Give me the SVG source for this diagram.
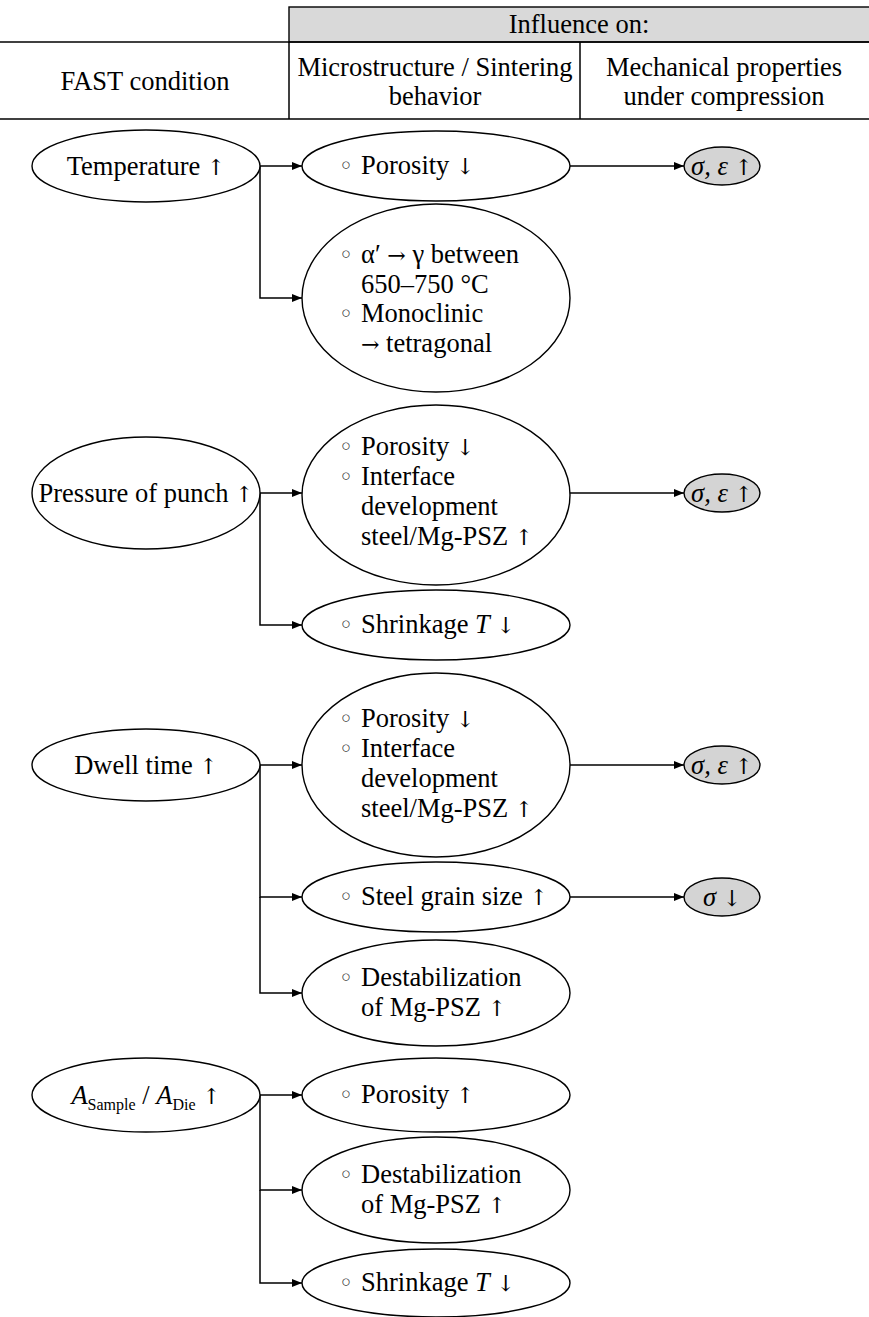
<svg xmlns="http://www.w3.org/2000/svg" width="869" height="1317" viewBox="0 0 869 1317">
<defs>
<marker id="ah" viewBox="0 0 10 8" refX="10" refY="4" markerWidth="10" markerHeight="8" markerUnits="userSpaceOnUse" orient="auto">
<path d="M0,0 L10,4 L0,8 Z" fill="#000"/>
</marker>
<style>
text{font-family:"Liberation Serif","DejaVu Serif",serif;font-size:26.5px;fill:#000}
.c{text-anchor:middle}
.n{fill:#fff;stroke:#000;stroke-width:1.4}
.g{fill:#d4d4d4;stroke:#000;stroke-width:1.4}
.l{fill:none;stroke:#000;stroke-width:1.5}
.a{fill:none;stroke:#000;stroke-width:1.5;marker-end:url(#ah)}
.b{font-family:"DejaVu Sans",sans-serif;font-size:24px;fill:#333}
.r{font-family:"DejaVu Serif",serif;font-size:22px}
.i{font-style:italic}
.s{font-size:16px}
</style>
</defs>
<rect width="869" height="1317" fill="#fff"/>
<g id="header">
<rect x="289" y="7" width="590" height="35" fill="#d9d9d9" stroke="#000" stroke-width="1.4"/>
<line class="l" x1="0" y1="42" x2="869" y2="42"/>
<line class="l" x1="0" y1="119" x2="869" y2="119"/>
<line class="l" x1="289" y1="42" x2="289" y2="119"/>
<line class="l" x1="580" y1="42" x2="580" y2="119"/>
<text class="c" x="579" y="33">Influence on:</text>
<text class="c" x="145" y="90">FAST condition</text>
<text class="c" x="435" y="76">Microstructure / Sintering</text>
<text class="c" x="435" y="105">behavior</text>
<text class="c" x="724" y="76">Mechanical properties</text>
<text class="c" x="724" y="105">under compression</text>
</g>
<g id="connectors">
<line class="a" x1="260" y1="166" x2="302" y2="166"/>
<polyline class="a" points="260,166 260,298 302,298"/>
<line class="a" x1="570" y1="166" x2="684" y2="166"/>
<line class="a" x1="260" y1="493" x2="302" y2="493"/>
<polyline class="a" points="260,493 260,625 302,625"/>
<line class="a" x1="570" y1="493" x2="684" y2="493"/>
<line class="a" x1="260" y1="765" x2="302" y2="765"/>
<polyline class="a" points="260,765 260,897 302,897"/>
<polyline class="a" points="260,897 260,993 302,993"/>
<line class="a" x1="570" y1="765" x2="684" y2="765"/>
<line class="a" x1="570" y1="897" x2="684" y2="897"/>
<line class="a" x1="260" y1="1095" x2="302" y2="1095"/>
<polyline class="a" points="260,1095 260,1190 302,1190"/>
<polyline class="a" points="260,1190 260,1283 302,1283"/>
</g>
<g id="temperature">
<ellipse class="n" cx="146" cy="166" rx="114" ry="36"/>
<text class="c" x="146" y="175">Temperature <tspan class="r">↑</tspan></text>
</g>
<g id="porosity1">
<ellipse class="n" cx="436" cy="166" rx="134" ry="35"/>
<text x="339" y="174"><tspan class="b">◦</tspan><tspan x="361">Porosity <tspan class="r">↓</tspan></tspan></text>
</g>
<g id="phase">
<ellipse class="n" cx="436" cy="298" rx="134" ry="94"/>
<text x="339" y="263"><tspan class="b">◦</tspan><tspan x="361">α′ <tspan class="r">→</tspan> γ between</tspan></text>
<text x="361" y="293">650–750 °C</text>
<text x="339" y="322"><tspan class="b">◦</tspan><tspan x="361">Monoclinic</tspan></text>
<text x="361" y="352"><tspan class="r">→</tspan> tetragonal</text>
</g>
<g id="sigma1">
<ellipse class="g" cx="722" cy="166" rx="38" ry="19"/>
<text class="c" x="722" y="175"><tspan class="i">σ, ε</tspan> <tspan class="r">↑</tspan></text>
</g>
<g id="pressure">
<ellipse class="n" cx="146" cy="493" rx="114" ry="56"/>
<text class="c" x="146" y="502">Pressure of punch <tspan class="r">↑</tspan></text>
</g>
<g id="interface1">
<ellipse class="n" cx="436" cy="495" rx="134" ry="90"/>
<text x="339" y="455"><tspan class="b">◦</tspan><tspan x="361">Porosity <tspan class="r">↓</tspan></tspan></text>
<text x="339" y="485"><tspan class="b">◦</tspan><tspan x="361">Interface</tspan></text>
<text x="361" y="515">development</text>
<text x="361" y="545">steel/Mg-PSZ <tspan class="r">↑</tspan></text>
</g>
<g id="sigma2">
<ellipse class="g" cx="722" cy="493" rx="38" ry="19"/>
<text class="c" x="722" y="502"><tspan class="i">σ, ε</tspan> <tspan class="r">↑</tspan></text>
</g>
<g id="shrink1">
<ellipse class="n" cx="436" cy="625" rx="134" ry="35"/>
<text x="339" y="633"><tspan class="b">◦</tspan><tspan x="361">Shrinkage <tspan class="i">T</tspan> <tspan class="r">↓</tspan></tspan></text>
</g>
<g id="dwell">
<ellipse class="n" cx="146" cy="765" rx="114" ry="36"/>
<text class="c" x="146" y="774">Dwell time <tspan class="r">↑</tspan></text>
</g>
<g id="interface2">
<ellipse class="n" cx="436" cy="765" rx="134" ry="92"/>
<text x="339" y="727"><tspan class="b">◦</tspan><tspan x="361">Porosity <tspan class="r">↓</tspan></tspan></text>
<text x="339" y="757"><tspan class="b">◦</tspan><tspan x="361">Interface</tspan></text>
<text x="361" y="787">development</text>
<text x="361" y="817">steel/Mg-PSZ <tspan class="r">↑</tspan></text>
</g>
<g id="sigma3">
<ellipse class="g" cx="722" cy="765" rx="38" ry="19"/>
<text class="c" x="722" y="774"><tspan class="i">σ, ε</tspan> <tspan class="r">↑</tspan></text>
</g>
<g id="grain">
<ellipse class="n" cx="436" cy="897" rx="134" ry="35"/>
<text x="339" y="905"><tspan class="b">◦</tspan><tspan x="361">Steel grain size <tspan class="r">↑</tspan></tspan></text>
</g>
<g id="sigma4">
<ellipse class="g" cx="722" cy="897" rx="38" ry="19"/>
<text class="c" x="722" y="906"><tspan class="i">σ</tspan> <tspan class="r">↓</tspan></text>
</g>
<g id="destab1">
<ellipse class="n" cx="436" cy="993" rx="134" ry="53"/>
<text x="339" y="986"><tspan class="b">◦</tspan><tspan x="361">Destabilization</tspan></text>
<text x="361" y="1016">of Mg-PSZ <tspan class="r">↑</tspan></text>
</g>
<g id="area">
<ellipse class="n" cx="146" cy="1095" rx="114" ry="37"/>
<text class="c" x="146" y="1104"><tspan class="i">A</tspan><tspan class="s" dy="6">Sample</tspan><tspan dy="-6"> / </tspan><tspan class="i">A</tspan><tspan class="s" dy="6">Die</tspan><tspan dy="-6"> </tspan><tspan class="r">↑</tspan></text>
</g>
<g id="porosity2">
<ellipse class="n" cx="436" cy="1095" rx="134" ry="37"/>
<text x="339" y="1103"><tspan class="b">◦</tspan><tspan x="361">Porosity <tspan class="r">↑</tspan></tspan></text>
</g>
<g id="destab2">
<ellipse class="n" cx="436" cy="1190" rx="134" ry="53"/>
<text x="339" y="1183"><tspan class="b">◦</tspan><tspan x="361">Destabilization</tspan></text>
<text x="361" y="1213">of Mg-PSZ <tspan class="r">↑</tspan></text>
</g>
<g id="shrink2">
<ellipse class="n" cx="436" cy="1283" rx="134" ry="34"/>
<text x="339" y="1291"><tspan class="b">◦</tspan><tspan x="361">Shrinkage <tspan class="i">T</tspan> <tspan class="r">↓</tspan></tspan></text>
</g>
</svg>
